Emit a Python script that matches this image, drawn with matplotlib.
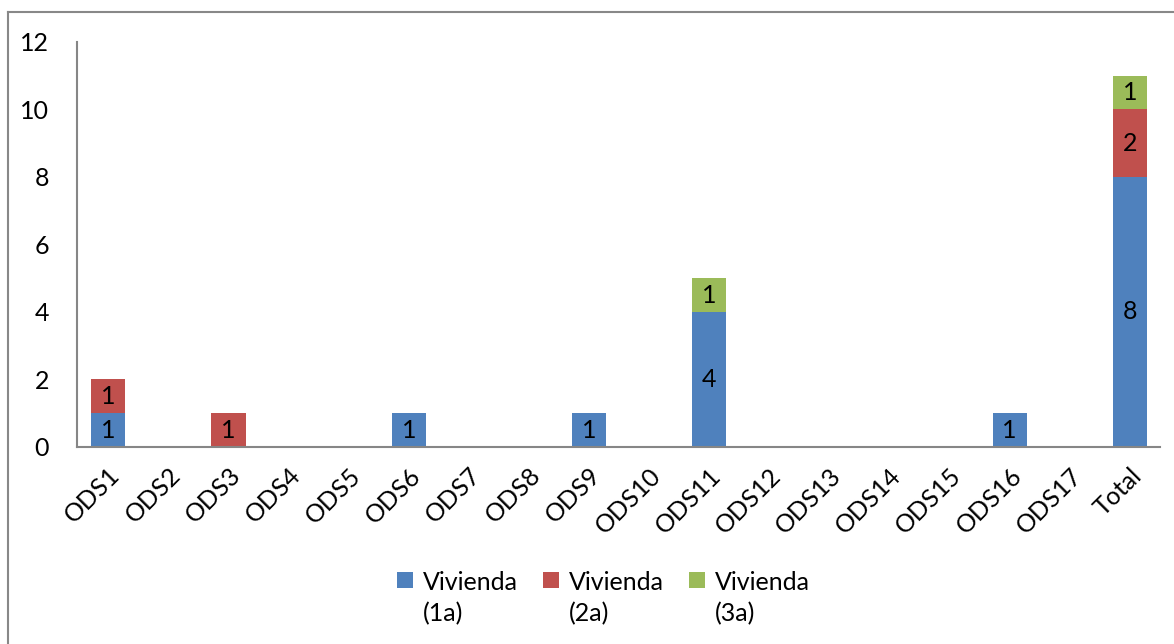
import matplotlib.pyplot as plt
import matplotlib.transforms as mtransforms
from matplotlib.patches import Patch, Rectangle
from matplotlib.legend_handler import HandlerPatch
from matplotlib.lines import Line2D
import numpy as np

plt.rcParams['font.family'] = ['Lato', 'DejaVu Sans']

categories = ['ODS1', 'ODS2', 'ODS3', 'ODS4', 'ODS5', 'ODS6', 'ODS7', 'ODS8', 'ODS9',
              'ODS10', 'ODS11', 'ODS12', 'ODS13', 'ODS14', 'ODS15', 'ODS16', 'ODS17', 'Total']
viv_1a = [1, 0, 0, 0, 0, 1, 0, 0, 1, 0, 4, 0, 0, 0, 0, 1, 0, 8]
viv_2a = [1, 0, 1, 0, 0, 0, 0, 0, 0, 0, 0, 0, 0, 0, 0, 0, 0, 2]
viv_3a = [0, 0, 0, 0, 0, 0, 0, 0, 0, 0, 1, 0, 0, 0, 0, 0, 0, 1]
series_names = ['Vivienda\n(1a)', 'Vivienda\n(2a)', 'Vivienda\n(3a)']
colors = ['#4F81BD', '#C0504D', '#9BBB59']

FS = 18

fig = plt.figure(figsize=(11.74, 6.44), dpi=100)
ax = fig.add_axes([0.0656, 0.306, 0.9224, 0.629])

x = np.arange(len(categories))
bottom = np.zeros(len(categories))
for vals, name, col in zip([viv_1a, viv_2a, viv_3a], series_names, colors):
    vals = np.array(vals, dtype=float)
    ax.bar(x, vals, 0.57, bottom=bottom, color=col, label=name)
    for xi, v, b in zip(x, vals, bottom):
        if v > 0:
            ax.text(xi, b + v / 2, f'{int(v)}', ha='center', va='center', fontsize=FS, color='black')
    bottom += vals

ax.set_xlim(-0.52, len(categories) - 0.5)
ax.set_ylim(0, 12)
ax.set_yticks(range(0, 13, 2))
ax.set_xticks(x)
ax.set_xticklabels(categories, rotation=45, ha='right', rotation_mode='anchor')
offset = mtransforms.ScaledTranslation(7 / 100, 0, fig.dpi_scale_trans)
for lbl in ax.get_xticklabels():
    lbl.set_transform(lbl.get_transform() + offset)

ax.tick_params(axis='both', length=0, labelsize=FS)
ax.tick_params(axis='y', pad=20)
ax.tick_params(axis='x', pad=12)
for s in ['top', 'right']:
    ax.spines[s].set_visible(False)
for s in ['left', 'bottom']:
    ax.spines[s].set_color('#868686')
    ax.spines[s].set_linewidth(1.5)


def top_square(legend, orig_handle, xdescent, ydescent, width, height, fontsize):
    size = width
    return Rectangle((-xdescent, -ydescent + height - size + 6), size, size)


handles = [Patch(facecolor=c) for c in colors]
leg = fig.legend(handles, series_names, loc='center', bbox_to_anchor=(0.514, 0.071), ncol=3,
                 frameon=False, fontsize=FS, handlelength=0.65, handleheight=2.0,
                 handletextpad=0.4, columnspacing=1.0,
                 handler_map={Patch: HandlerPatch(patch_func=top_square)})
for t in leg.get_texts():
    t.set_linespacing(1.45)

# outer chart border (left and top edges visible)
fig.add_artist(Line2D([8 / 1174, 8 / 1174], [0, 1 - 12 / 644], transform=fig.transFigure,
                      color='#888888', linewidth=1.5))
fig.add_artist(Line2D([8 / 1174, 1], [1 - 12 / 644, 1 - 12 / 644], transform=fig.transFigure,
                      color='#888888', linewidth=1.5))

fig.savefig('out.png', dpi=100)
